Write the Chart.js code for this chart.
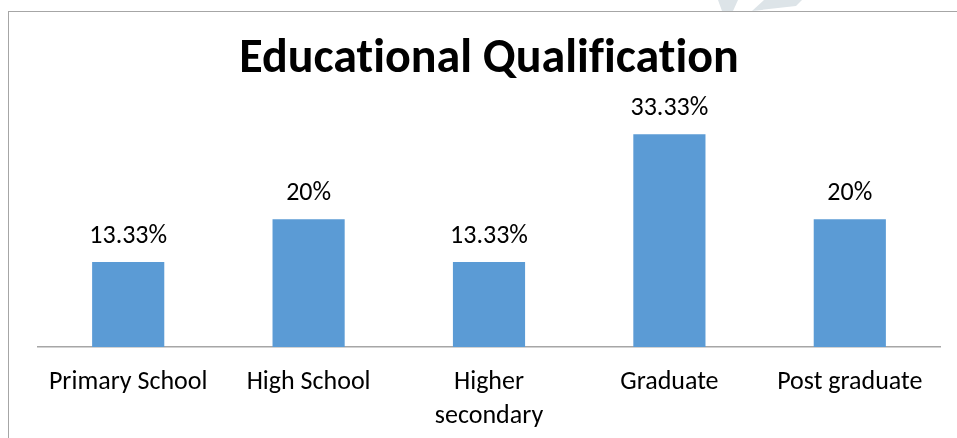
<!DOCTYPE html>
<html>
<head>
<meta charset="utf-8">
<script src="https://cdn.jsdelivr.net/npm/chart.js@4/dist/chart.umd.min.js"></script>
<style>
  html, body { margin: 0; padding: 0; background: #fff; }
  #wrap { position: relative; width: 957px; height: 438px; overflow: hidden; }
  #frame { position: absolute; left: 8px; top: 11px; width: 960px; height: 440px;
           border-left: 1px solid #a6a6a6; border-top: 1px solid #a6a6a6; }
  #mark { position: absolute; left: 0; top: 0; }
  canvas { position: absolute; left: 0; top: 0; }
</style>
</head>
<body>
<div id="wrap">
  <svg id="mark" width="957" height="12">
    <polygon points="718,0 738,0 733,11 722,11" fill="#dde4e8"/>
    <polygon points="764,0 802,0 796,6 752,11" fill="#dde4e8"/>
  </svg>
  <div id="frame"></div>
  <canvas id="myChart" width="957" height="438"></canvas>
</div>
<script>
const categories = ["Primary School", "High School", ["Higher", "secondary"], "Graduate", "Post graduate"];
const values = [13.33, 20, 13.33, 33.33, 20];
const valueLabels = ["13.33%", "20%", "13.33%", "33.33%", "20%"];
const title = "Educational Qualification";
const barColor = "#5b9bd5";
const fontName = "Carlito, 'Open Sans', sans-serif";

// no "ti" ligature, the original has plain letters
const plainText = {
  id: "plainText",
  beforeDraw(chart) {
    chart.ctx.textRendering = "optimizeSpeed";
  }
};

// draw the % labels above each bar
const barLabels = {
  id: "barLabels",
  afterDatasetsDraw(chart) {
    const ctx = chart.ctx;
    const meta = chart.getDatasetMeta(0);
    ctx.save();
    ctx.font = "26px " + fontName;
    ctx.fillStyle = "#000";
    ctx.textAlign = "center";
    ctx.textBaseline = "alphabetic";
    meta.data.forEach((bar, i) => {
      ctx.fillText(valueLabels[i], bar.x, bar.y - 19);
    });
    ctx.restore();
  }
};

const tickPad = 18;
const tickSize = 26;
const tickLine = 1.31;

const chartDOM = document.getElementById("myChart");
const chart = new Chart(chartDOM, {
  type: "bar",
  data: {
    labels: categories,
    datasets: [{
      data: values,
      backgroundColor: barColor,
      categoryPercentage: 1,
      barPercentage: 0.4
    }]
  },
  options: {
    responsive: false,
    animation: false,
    layout: { padding: { left: 38, right: 17, top: 0, bottom: 8 } },
    plugins: {
      legend: { display: false },
      tooltip: { enabled: false },
      title: {
        display: true,
        text: title,
        color: "#000",
        font: { family: fontName, size: 48, weight: "bold", lineHeight: 1.2 },
        padding: { top: 31, bottom: 3 }
      }
    },
    scales: {
      x: {
        grid: { display: false, drawTicks: false },
        border: { display: true, color: "#a6a6a6", width: 1.5 },
        ticks: {
          color: "#000",
          padding: tickPad,
          maxRotation: 0,
          autoSkip: false,
          font: { family: fontName, size: tickSize, lineHeight: tickLine }
        },
        afterFit(scale) {
          scale.height = 83;
        }
      },
      y: {
        display: false,
        min: 0,
        max: 40
      }
    }
  },
  plugins: [plainText, barLabels]
});
</script>
</body>
</html>
